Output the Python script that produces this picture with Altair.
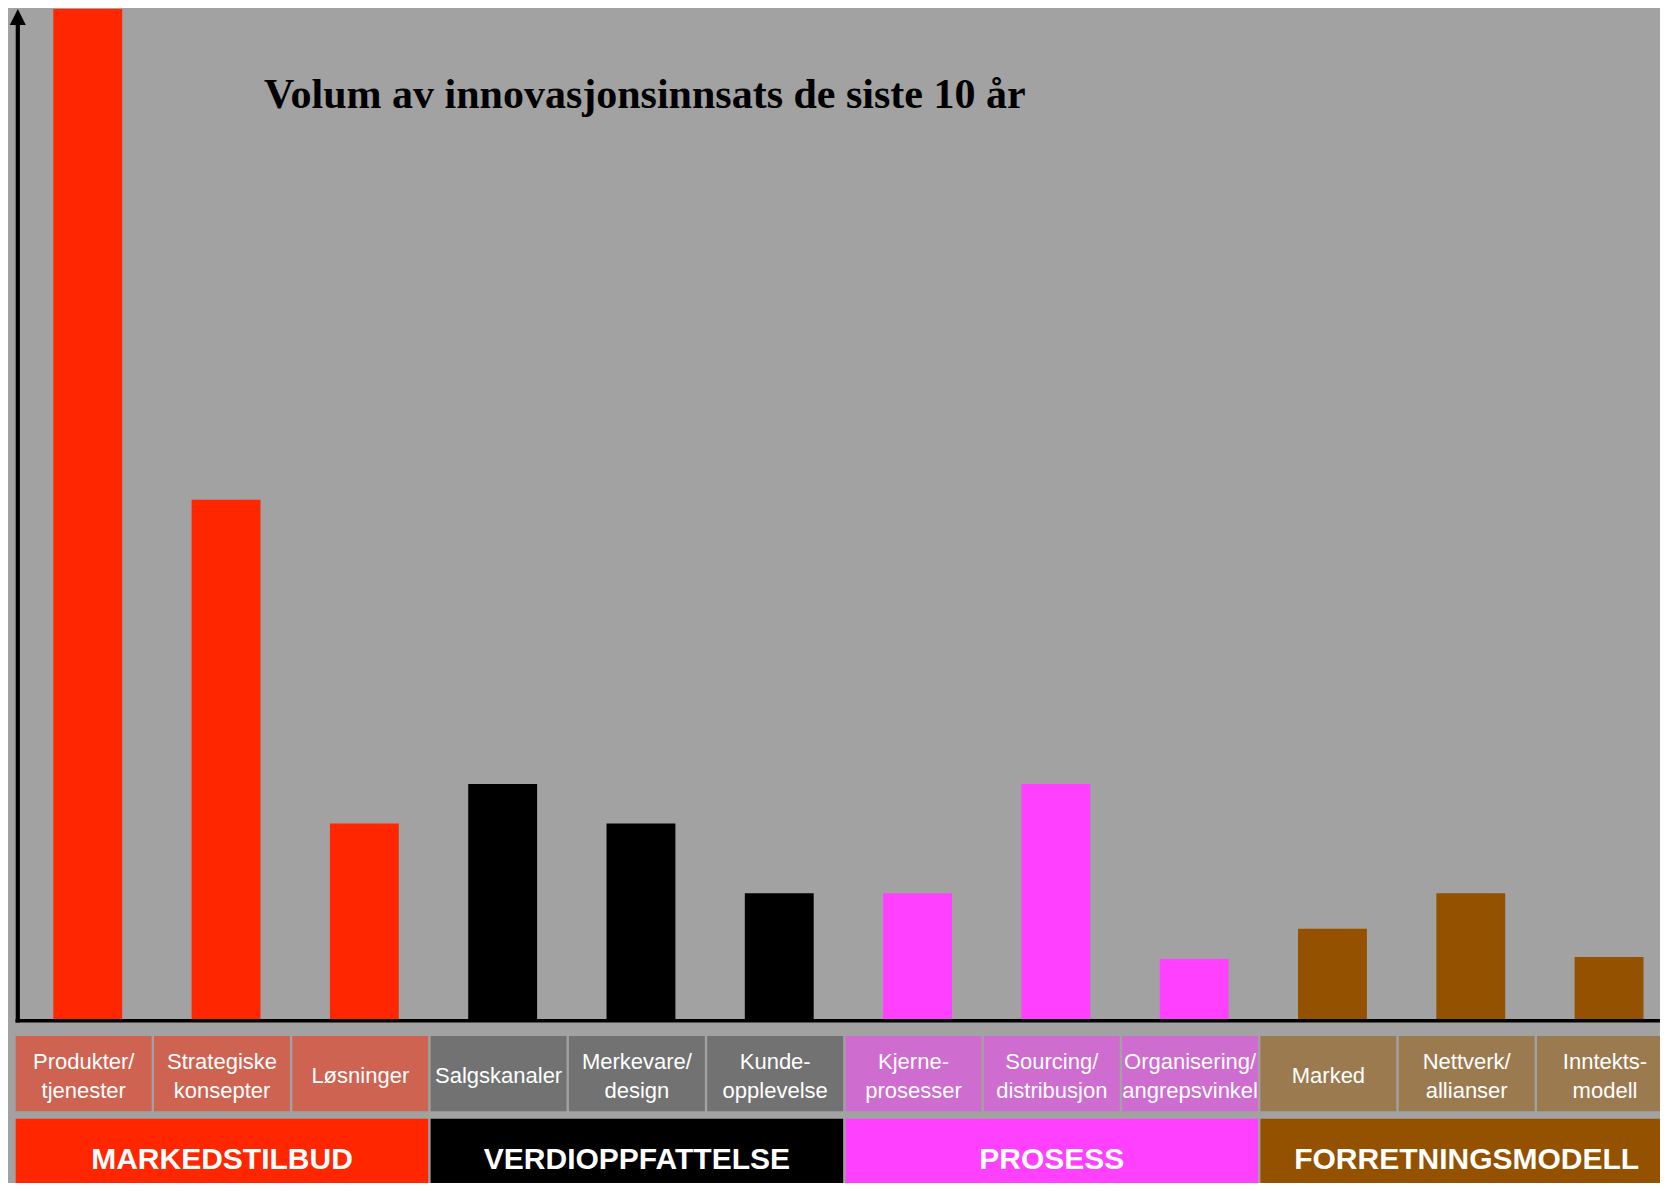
import altair as alt
import pandas as pd

# ---- data ----
categories = [
    "Produkter/\ntjenester", "Strategiske\nkonsepter", "Løsninger",
    "Salgskanaler", "Merkevare/\ndesign", "Kunde-\nopplevelse",
    "Kjerne-\nprosesser", "Sourcing/\ndistribusjon", "Organisering/\nangrepsvinkel",
    "Marked", "Nettverk/\nallianser", "Inntekts-\nmodell",
]
values = [100, 51.5, 19.5, 23.4, 19.5, 12.6, 12.6, 23.4, 6.1, 9.1, 12.6, 6.3]
groups = ["MARKEDSTILBUD", "VERDIOPPFATTELSE", "PROSESS", "FORRETNINGSMODELL"]
group_of = [0, 0, 0, 1, 1, 1, 2, 2, 2, 3, 3, 3]
bar_colors = ["#ff2600", "#000000", "#ff40ff", "#945200"]
box_colors = ["#cf6352", "#727272", "#cf6ccf", "#9c7a50"]
title_text = "Volum av innovasjonsinnsats de siste 10 år"

cat_df = pd.DataFrame({
    "i": list(range(len(categories))),
    "label": categories,
    "value": values,
    "group": [groups[g] for g in group_of],
})
grp_df = pd.DataFrame({"g": list(range(len(groups))), "group": groups})

W, H = 1652, 1175
BG = "#a2a2a2"
SANS = "Liberation Sans, Arial, sans-serif"

xs = alt.Scale(domain=[-0.0557, 11.8893], nice=False, zero=False)
ys = alt.Scale(domain=[0, 100], range=[1012.8, 1], nice=False, zero=False)
bar_color = alt.Color("group:N", scale=alt.Scale(domain=groups, range=bar_colors), legend=None)
box_color = alt.Color("group:N", scale=alt.Scale(domain=groups, range=box_colors), legend=None)

base = alt.Chart(cat_df)

bars = base.transform_calculate(
    x0="datum.i + 0.272", x1="datum.i + 0.77"
).mark_rect().encode(
    x=alt.X("x0:Q", scale=xs, axis=None),
    x2="x1:Q",
    y=alt.Y("value:Q", scale=ys, axis=None),
    y2=alt.datum(0),
    color=bar_color,
)

label_boxes = base.transform_calculate(
    x0="datum.i", x1="datum.i + 0.983"
).mark_rect(clip=True).encode(
    x=alt.X("x0:Q", scale=xs, axis=None),
    x2="x1:Q",
    y=alt.value(1028),
    y2=alt.value(1103.3),
    color=box_color,
)

text_style = dict(
    font=SANS, fontSize=22, color="white", lineBreak="\n", lineHeight=29.3,
    align="center", baseline="alphabetic", clip=True,
)

label_text_two = base.transform_filter(
    "indexof(datum.label, '\\n') >= 0"
).transform_calculate(
    xc="datum.i + 0.4917"
).mark_text(**text_style).encode(
    x=alt.X("xc:Q", scale=xs, axis=None),
    y=alt.value(1060.5),
    text="label:N",
)

label_text_one = base.transform_filter(
    "indexof(datum.label, '\\n') < 0"
).transform_calculate(
    xc="datum.i + 0.4917"
).mark_text(**text_style).encode(
    x=alt.X("xc:Q", scale=xs, axis=None),
    y=alt.value(1075),
    text="label:N",
)

gbase = alt.Chart(grp_df)
group_boxes = gbase.transform_calculate(
    x0="datum.g * 3", x1="datum.g * 3 + 2.983"
).mark_rect(clip=True).encode(
    x=alt.X("x0:Q", scale=xs, axis=None),
    x2="x1:Q",
    y=alt.value(1110.7),
    y2=alt.value(H),
    color=bar_color,
)

group_text = gbase.transform_calculate(
    xc="datum.g * 3 + 1.4917"
).mark_text(
    font=SANS, fontSize=30, fontWeight="bold", color="white",
    align="center", baseline="alphabetic", clip=True,
).encode(
    x=alt.X("xc:Q", scale=xs, axis=None),
    y=alt.value(1161),
    text="group:N",
)

deco = alt.Chart(pd.DataFrame({"t": [title_text]}))
x_axis = deco.mark_rule(color="black", strokeWidth=3.5).encode(
    x=alt.value(7.5), x2=alt.value(W), y=alt.value(1012.8)
)
y_axis = deco.mark_rule(color="black", strokeWidth=4.2).encode(
    x=alt.value(9.8), y=alt.value(12), y2=alt.value(1014.5)
)
arrow = deco.mark_point(
    shape="M0,-1L1,1L-1,1Z", size=256, filled=True, color="black", opacity=1, strokeWidth=0
).encode(x=alt.value(9.8), y=alt.value(9))
title = deco.mark_text(
    font="Liberation Serif, Times New Roman, serif", fontSize=42, fontWeight="bold",
    color="black", align="left", baseline="alphabetic",
).encode(x=alt.value(256), y=alt.value(99.5), text="t:N")

chart = alt.layer(
    bars, label_boxes, label_text_two, label_text_one, group_boxes, group_text,
    x_axis, y_axis, arrow, title
).resolve_scale(color="independent").properties(
    width=W, height=H, background=BG, padding=0,
    autosize=alt.AutoSizeParams(type="none"),
).configure_view(stroke=None)

chart.save("out.html", embed_options={"renderer": "svg", "actions": False})
